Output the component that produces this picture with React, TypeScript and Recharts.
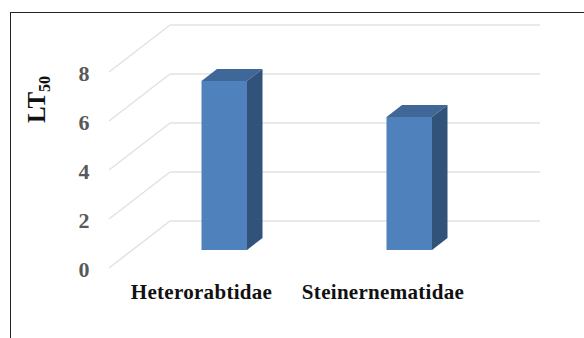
import { BarChart, Bar, XAxis, YAxis, CartesianGrid } from 'recharts'

const families = ['Heterorabtidae', 'Steinernematidae']
const lt50Values = [6.9, 5.43]
const valueTicks = [0, 2, 4, 6, 8]

const data = families.map((name, i) => ({ name, lt50: lt50Values[i] }))

const SERIF = '"Liberation Serif", serif'

// depth of the chart floor, from back wall to front edge
const WALL_DX = 61
const WALL_DY = 47
// where the bars stand on the floor, and how deep they are
const BAR_SHIFT_X = -38.5
const BAR_SHIFT_Y = 29
const BAR_DX = 15.5
const BAR_DY = 12

function Bar3D(props: any) {
  const { x, y, width, height } = props
  const left = x + BAR_SHIFT_X
  const right = left + width
  const top = y + BAR_SHIFT_Y
  const bottom = top + height
  return (
    <g>
      <polygon
        points={`${left},${top} ${right},${top} ${right + BAR_DX},${top - BAR_DY} ${left + BAR_DX},${top - BAR_DY}`}
        fill="#3F6797"
      />
      <polygon
        points={`${right},${top} ${right + BAR_DX},${top - BAR_DY} ${right + BAR_DX},${bottom - BAR_DY} ${right},${bottom}`}
        fill="#315379"
      />
      <rect x={left} y={top} width={width} height={height} fill="#4F81BD" />
    </g>
  )
}

function ValueTick(props: any) {
  const { x, y, payload } = props
  return (
    <g>
      <line x1={x} y1={y} x2={x - WALL_DX} y2={y + WALL_DY} stroke="#E2E2E2" strokeWidth={1.5} />
      <text
        x={x - 86}
        y={y + WALL_DY + 9}
        textAnchor="middle"
        fontFamily={SERIF}
        fontWeight="bold"
        fontSize={22}
        fill="#595959"
      >
        {payload.value}
      </text>
    </g>
  )
}

function FamilyTick(props: any) {
  const { x, y, index, payload } = props
  // the second name sits a little left of its bar
  const nudge = index === 1 ? -3.5 : 0
  return (
    <text
      x={x - WALL_DX + nudge}
      y={y + 76}
      textAnchor="middle"
      fontFamily={SERIF}
      fontWeight="bold"
      fontSize={21}
      letterSpacing={0.3}
      fill="#111111"
    >
      {payload.value}
    </text>
  )
}

function AxisTitle() {
  return (
    <text
      transform="translate(45 123) rotate(-90)"
      fontFamily={SERIF}
      fontWeight="bold"
      fontSize={25}
      fill="#111111"
    >
      LT
      <tspan fontSize={16} dy={5}>
        50
      </tspan>
    </text>
  )
}

export default function App() {
  return (
    <div style={{ position: 'absolute', left: 0, top: 0, width: 584, height: 338, overflow: 'hidden', background: '#fff' }}>
      <div
        style={{
          position: 'absolute',
          left: 10,
          top: 12,
          right: 0,
          bottom: 0,
          borderTop: '1.5px solid #222',
          borderLeft: '1.5px solid #222',
        }}
      />
      <BarChart
        width={584}
        height={338}
        data={data}
        margin={{ top: 25, right: 44, bottom: 0, left: 0 }}
        barSize={45.5}
        style={{ position: 'absolute', left: 0, top: 0 }}
      >
        <CartesianGrid vertical={false} stroke="#E2E2E2" strokeWidth={1.5} />
        <XAxis
          dataKey="name"
          height={117}
          axisLine={false}
          tickLine={false}
          tickSize={0}
          tick={<FamilyTick />}
          interval={0}
        />
        <YAxis
          width={170}
          domain={[0, 8]}
          ticks={valueTicks}
          axisLine={false}
          tickLine={false}
          tickSize={0}
          tickMargin={0}
          tick={<ValueTick />}
          label={{ content: () => <AxisTitle /> }}
        />
        <Bar dataKey="lt50" shape={<Bar3D />} isAnimationActive={false} />
      </BarChart>
    </div>
  )
}
